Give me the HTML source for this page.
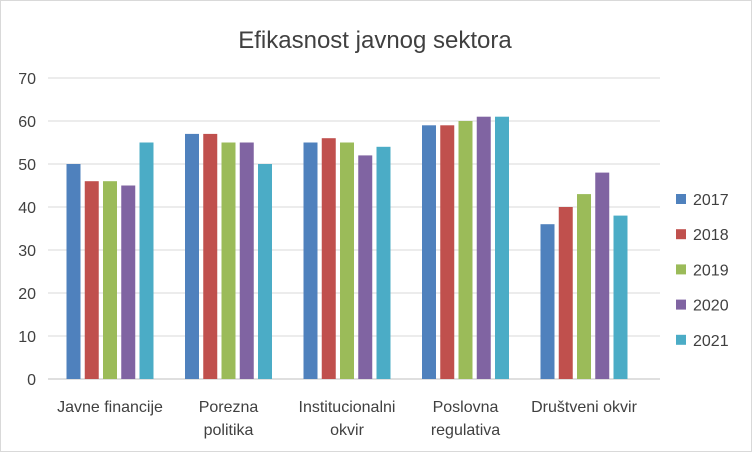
<!DOCTYPE html>
<html><head><meta charset="utf-8"><style>
body{margin:0;background:#fff;font-family:"Liberation Sans",sans-serif}
svg text{font-family:"Liberation Sans",sans-serif;fill:#404040}
</style></head><body>
<svg width="752" height="452" xmlns="http://www.w3.org/2000/svg">
<rect x="0.5" y="0.5" width="751" height="451" fill="#fff" stroke="#d9d9d9"/>
<text x="375" y="48" font-size="24" text-anchor="middle">Efikasnost javnog sektora</text>
<g id="grid"></g><g id="bars"></g><g id="xl"></g><g id="legend"></g>
</svg>
<script>
const categories=[["Javne financije"],["Porezna","politika"],["Institucionalni","okvir"],["Poslovna","regulativa"],["Društveni okvir"]];
const years=["2017","2018","2019","2020","2021"];
const colors=["#4F81BD","#C0504D","#9BBB59","#8064A2","#4BACC6"];
const s2017=[50,57,55,59,36];
const s2018=[46,57,56,59,40];
const s2019=[46,55,55,60,43];
const s2020=[45,55,52,61,48];
const s2021=[55,50,54,61,38];
const series=[s2017,s2018,s2019,s2020,s2021];
const yTicks=[0,10,20,30,40,50,60,70];
const NS="http://www.w3.org/2000/svg";
const gx0=48,gx1=660,x0=50.75,x1=643.25,yb=379,yt=78,ymax=70;
const y=v=>yb-(v/ymax)*(yb-yt);
const cw=(x1-x0)/categories.length;
function mk(t,a,p){const e=document.createElementNS(NS,t);for(const k in a)e.setAttribute(k,a[k]);p.appendChild(e);return e;}
const g=document.getElementById('grid');
yTicks.forEach(t=>{
 const l=mk('line',{x1:gx0,x2:gx1,y1:y(t),y2:y(t),stroke:t===0?'#bfbfbf':'#d9d9d9'},g);
 
 
 const tx=mk('text',{x:36,y:y(t)+6,'font-size':16,'text-anchor':'end'},g);
 tx.textContent=t;
 
 
});
const b=document.getElementById('bars');
const bw=14,gap=4.25,gw=5*bw+4*gap;
categories.forEach((c,i)=>{
 const cx=x0+cw*(i+0.5);
 series.forEach((s,j)=>{
  const bx=cx-gw/2+j*(bw+gap);
  const r=mk('rect',{x:bx,y:y(s[i]),width:bw,height:yb-y(s[i]),fill:colors[j]},b);
  
  
 });
 c.forEach((line,k)=>{
  const t=mk('text',{x:cx,y:412+k*23,'font-size':16,'text-anchor':'middle'},document.getElementById('xl'));
  t.textContent=line;
  
  
 });
});
const lg=document.getElementById('legend');
years.forEach((yr,j)=>{
 const yy=199+j*35.2;
 const r=mk('rect',{x:676,y:yy-5,width:10,height:10,fill:colors[j]},lg);
 
 
 const t=mk('text',{x:693,y:yy+6,'font-size':16},lg);
 t.textContent=yr;
 
 
});
</script>
</body></html>
